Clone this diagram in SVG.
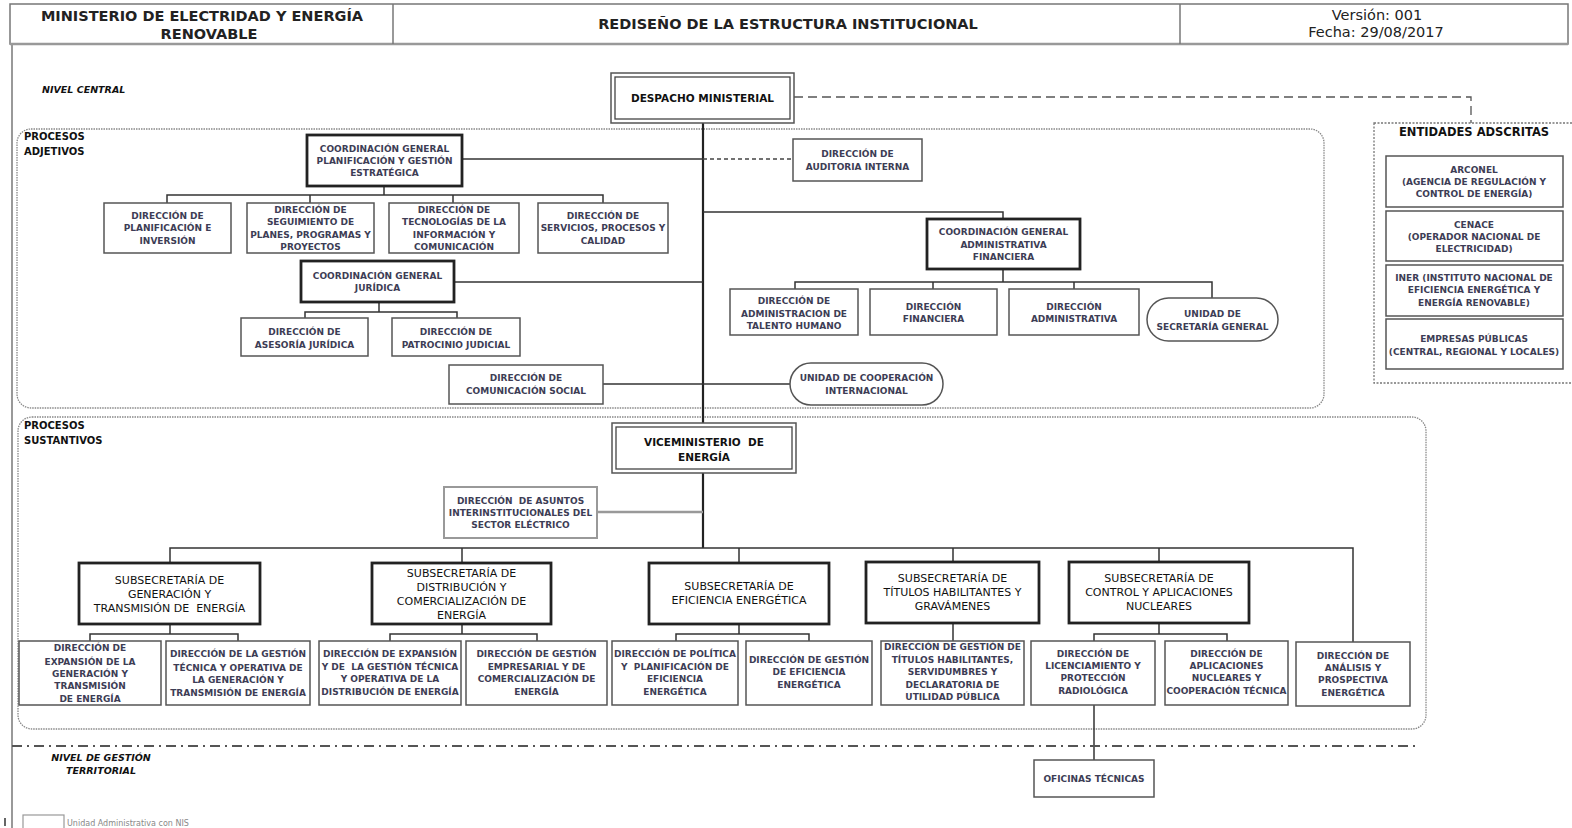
<svg xmlns="http://www.w3.org/2000/svg" width="1572" height="828" viewBox="0 0 1572 828">
<style>
text{font-family:"DejaVu Sans","Liberation Sans",Arial,sans-serif}
.s{font-size:9px;font-weight:bold;fill:#3d3d55;text-anchor:middle}
.sub{font-size:11px;fill:#111;text-anchor:middle}
.hd{font-size:14.5px;font-weight:bold;fill:#222;text-anchor:middle}
.hr{font-size:14.5px;fill:#222;text-anchor:middle}
.big{font-size:10.5px;font-weight:bold;fill:#111;text-anchor:middle}
.bx{fill:#fff;stroke:#555;stroke-width:1.5}
.tk{fill:#fff;stroke:#222;stroke-width:2.8}
.db{fill:none;stroke:#444;stroke-width:1.3}
.ln{fill:none;stroke:#333;stroke-width:1.5}
.trunk{fill:none;stroke:#222;stroke-width:2.2}
.reg{fill:none;stroke:#888;stroke-width:1.3;stroke-dasharray:1.5 1}
.lbl{font-size:10px;font-weight:bold;fill:#111}
.lvl{font-size:9.5px;font-weight:bold;font-style:italic;fill:#111}
</style>
<rect width="1572" height="828" fill="#fff"/>

<g id="header">
<rect x="10" y="4" width="1558" height="40" fill="none" stroke="#777" stroke-width="1.5"/>
<line x1="10" y1="44" x2="1568" y2="44" stroke="#999" stroke-width="2.5"/>
<line x1="393" y1="4" x2="393" y2="44" stroke="#777" stroke-width="1.5"/>
<line x1="1180" y1="4" x2="1180" y2="44" stroke="#777" stroke-width="1.5"/>
<text class="hd" x="202" y="21">MINISTERIO DE ELECTRIDAD Y ENERGÍA</text>
<text class="hd" x="209" y="39">RENOVABLE</text>
<text class="hd" x="788" y="29">REDISEÑO DE LA ESTRUCTURA INSTITUCIONAL</text>
<text class="hr" x="1377" y="20">Versión: 001</text>
<text class="hr" x="1376" y="37">Fecha: 29/08/2017</text>
</g>

<line x1="12" y1="44" x2="12" y2="828" stroke="#999" stroke-width="2"/>
<line x1="5" y1="818" x2="5" y2="826" stroke="#333" stroke-width="1.5"/>

<g id="regions">
<rect class="reg" x="17" y="129" width="1307" height="279" rx="14"/>
<rect class="reg" x="18" y="417" width="1408" height="312" rx="14"/>
<text class="lvl" x="42" y="92.5">NIVEL CENTRAL</text>
<text class="lbl" x="24" y="139.5">PROCESOS</text>
<text class="lbl" x="24" y="154.5">ADJETIVOS</text>
<text class="lbl" x="24" y="428.5">PROCESOS</text>
<text class="lbl" x="24" y="443.5">SUSTANTIVOS</text>
<text class="lvl" x="101" y="760.5" text-anchor="middle">NIVEL DE GESTIÓN</text>
<text class="lvl" x="101" y="773.5" text-anchor="middle">TERRITORIAL</text>
</g>

<g id="connectors">
<path class="trunk" d="M703 123V423M703 473V548"/>
<path class="ln" d="M462 159H703"/>
<path d="M703 159H793" fill="none" stroke="#444" stroke-width="1.3" stroke-dasharray="4 3"/>
<path d="M794 97H1471V123" fill="none" stroke="#555" stroke-width="1.3" stroke-dasharray="9 5"/>
<path class="ln" d="M384 186V195M167 203V195H603V203M310 195V203M453 195V203"/>
<path class="ln" d="M703 212H1003V219"/>
<path class="ln" d="M1003 269V282M795 289V282H1212V298M933 282V289M1074 282V289"/>
<path class="ln" d="M454 282H703"/>
<path class="ln" d="M379 302V312M305 318V312H457V318"/>
<path class="ln" d="M603 384H790"/>
<path d="M597 512H703" fill="none" stroke="#999" stroke-width="2.5"/>
<path class="ln" d="M170 563V548H1353V642M462 548V563M739 548V563M953 548V562M1159 548V562"/>
<path class="ln" d="M170 624V634M90 641V634H238V641"/>
<path class="ln" d="M462 624V634M390 641V634H537V641"/>
<path class="ln" d="M739 624V634M676 641V634H809V641"/>
<path class="ln" d="M953 623V641"/>
<path class="ln" d="M1159 623V634M1094 641V634H1227V641"/>
<path class="ln" d="M1094 705V760"/>
<path d="M12 746H1419" fill="none" stroke="#555" stroke-width="2" stroke-dasharray="10 5 2 5"/>
</g>

<g id="despacho">
<rect class="bx" x="611" y="73" width="183" height="50"/>
<rect class="db" x="615" y="77" width="175" height="42"/>
<text class="big" x="702.5" y="101.5">DESPACHO MINISTERIAL</text>
</g>

<g id="entidades">
<rect x="1374" y="123" width="210" height="260" fill="none" stroke="#777" stroke-width="1.3" stroke-dasharray="2 1.5"/>
<text x="1474" y="136" font-size="11.5" font-weight="bold" fill="#111" text-anchor="middle">ENTIDADES ADSCRITAS</text>
<rect class="bx" x="1386" y="156" width="177" height="51"/>
<text class="s" x="1474" y="172.5">ARCONEL</text>
<text class="s" x="1474" y="184.5">(AGENCIA DE REGULACIÓN Y</text>
<text class="s" x="1474" y="197">CONTROL DE ENERGÍA)</text>
<rect class="bx" x="1386" y="211" width="177" height="50"/>
<text class="s" x="1474" y="227.5">CENACE</text>
<text class="s" x="1474" y="239.5">(OPERADOR NACIONAL DE</text>
<text class="s" x="1474" y="251.5">ELECTRICIDAD)</text>
<rect class="bx" x="1386" y="265" width="177" height="51"/>
<text class="s" x="1474" y="280.5">INER (INSTITUTO NACIONAL DE</text>
<text class="s" x="1474" y="293">EFICIENCIA ENERGÉTICA Y</text>
<text class="s" x="1474" y="305.5">ENERGÍA RENOVABLE)</text>
<rect class="bx" x="1386" y="319" width="177" height="50"/>
<text class="s" x="1474" y="342">EMPRESAS PÚBLICAS</text>
<text class="s" x="1474" y="354.5">(CENTRAL, REGIONAL Y LOCALES)</text>
</g>

<g id="coord-planificacion">
<rect class="tk" x="307" y="135" width="155" height="51"/>
<text class="s" x="384.5" y="152">COORDINACIÓN GENERAL</text>
<text class="s" x="384.5" y="164">PLANIFICACIÓN Y GESTIÓN</text>
<text class="s" x="384.5" y="176">ESTRATÉGICA</text>
</g>
<g id="dir-planificacion">
<rect class="bx" x="104" y="203" width="127" height="50"/>
<text class="s" x="167.5" y="218.5">DIRECCIÓN DE</text>
<text class="s" x="167.5" y="231">PLANIFICACIÓN E</text>
<text class="s" x="167.5" y="243.5">INVERSIÓN</text>
</g>
<g id="dir-seguimiento">
<rect class="bx" x="247" y="203" width="127" height="50"/>
<text class="s" x="310.5" y="212.5">DIRECCIÓN DE</text>
<text class="s" x="310.5" y="225">SEGUIMIENTO  DE</text>
<text class="s" x="310.5" y="237.5">PLANES, PROGRAMAS Y</text>
<text class="s" x="310.5" y="250">PROYECTOS</text>
</g>
<g id="dir-tecnologias">
<rect class="bx" x="389" y="203" width="130" height="50"/>
<text class="s" x="454" y="212.5">DIRECCIÓN DE</text>
<text class="s" x="454" y="225">TECNOLOGÍAS DE LA</text>
<text class="s" x="454" y="237.5">INFORMACIÓN Y</text>
<text class="s" x="454" y="250">COMUNICACIÓN</text>
</g>
<g id="dir-servicios">
<rect class="bx" x="538" y="203" width="130" height="50"/>
<text class="s" x="603" y="218.5">DIRECCIÓN DE</text>
<text class="s" x="603" y="231">SERVICIOS,  PROCESOS Y</text>
<text class="s" x="603" y="243.5">CALIDAD</text>
</g>
<g id="dir-auditoria">
<rect class="bx" x="793" y="139" width="129" height="42"/>
<text class="s" x="857.5" y="157">DIRECCIÓN DE</text>
<text class="s" x="857.5" y="170">AUDITORIA INTERNA</text>
</g>

<g id="coord-juridica">
<rect class="tk" x="301" y="261" width="153" height="41"/>
<text class="s" x="377.5" y="279">COORDINACIÓN GENERAL</text>
<text class="s" x="377.5" y="290.5">JURÍDICA</text>
</g>
<g id="dir-asesoria">
<rect class="bx" x="241" y="318" width="127" height="38"/>
<text class="s" x="304.5" y="335">DIRECCIÓN DE</text>
<text class="s" x="304.5" y="348">ASESORÍA JURÍDICA</text>
</g>
<g id="dir-patrocinio">
<rect class="bx" x="392" y="318" width="128" height="38"/>
<text class="s" x="456" y="335">DIRECCIÓN DE</text>
<text class="s" x="456" y="348">PATROCINIO JUDICIAL</text>
</g>
<g id="dir-comunicacion">
<rect class="bx" x="449" y="365" width="154" height="39"/>
<text class="s" x="526" y="381">DIRECCIÓN DE</text>
<text class="s" x="526" y="394">COMUNICACIÓN SOCIAL</text>
</g>
<g id="unidad-cooperacion">
<rect class="bx" x="790" y="363" width="153" height="42" rx="21"/>
<text class="s" x="866.5" y="381">UNIDAD DE COOPERACIÓN</text>
<text class="s" x="866.5" y="394">INTERNACIONAL</text>
</g>

<g id="coord-administrativa">
<rect class="tk" x="927" y="219" width="153" height="50"/>
<text class="s" x="1003.5" y="235">COORDINACIÓN GENERAL</text>
<text class="s" x="1003.5" y="247.5">ADMINISTRATIVA</text>
<text class="s" x="1003.5" y="260">FINANCIERA</text>
</g>
<g id="dir-talento">
<rect class="bx" x="730" y="289" width="128" height="46"/>
<text class="s" x="794" y="304">DIRECCIÓN DE</text>
<text class="s" x="794" y="316.5">ADMINISTRACION DE</text>
<text class="s" x="794" y="329">TALENTO HUMANO</text>
</g>
<g id="dir-financiera">
<rect class="bx" x="870" y="289" width="127" height="46"/>
<text class="s" x="933.5" y="310">DIRECCIÓN</text>
<text class="s" x="933.5" y="322">FINANCIERA</text>
</g>
<g id="dir-administrativa">
<rect class="bx" x="1009" y="289" width="130" height="46"/>
<text class="s" x="1074" y="310">DIRECCIÓN</text>
<text class="s" x="1074" y="322">ADMINISTRATIVA</text>
</g>
<g id="unidad-secretaria">
<rect class="bx" x="1147" y="298" width="131" height="43" rx="21.5"/>
<text class="s" x="1212.5" y="317">UNIDAD DE</text>
<text class="s" x="1212.5" y="329.5">SECRETARÍA GENERAL</text>
</g>

<g id="viceministerio">
<rect class="bx" x="612" y="423" width="184" height="50"/>
<rect class="db" x="616" y="427" width="176" height="42"/>
<text class="big" x="704" y="445.5" xml:space="preserve">VICEMINISTERIO  DE</text>
<text class="big" x="704" y="460.5">ENERGÍA</text>
</g>
<g id="dir-asuntos">
<rect x="444" y="487" width="153" height="51" fill="#fff" stroke="#999" stroke-width="2"/>
<text class="s" x="520.5" y="504" xml:space="preserve">DIRECCIÓN  DE ASUNTOS</text>
<text class="s" x="520.5" y="516">INTERINSTITUCIONALES DEL</text>
<text class="s" x="520.5" y="527.5">SECTOR ELÉCTRICO</text>
</g>

<g id="subs-generacion">
<rect class="tk" x="79" y="563" width="181" height="61"/>
<text class="sub" x="169.5" y="584">SUBSECRETARÍA DE</text>
<text class="sub" x="169.5" y="598">GENERACIÓN Y</text>
<text class="sub" x="169.5" y="612" xml:space="preserve">TRANSMISIÓN DE  ENERGÍA</text>
</g>
<g id="subs-distribucion">
<rect class="tk" x="372" y="563" width="179" height="61"/>
<text class="sub" x="461.5" y="577">SUBSECRETARÍA DE</text>
<text class="sub" x="461.5" y="591">DISTRIBUCIÓN Y</text>
<text class="sub" x="461.5" y="605">COMERCIALIZACIÓN DE</text>
<text class="sub" x="461.5" y="619">ENERGÍA</text>
</g>
<g id="subs-eficiencia">
<rect class="tk" x="649" y="563" width="180" height="61"/>
<text class="sub" x="739" y="590">SUBSECRETARÍA DE</text>
<text class="sub" x="739" y="604">EFICIENCIA ENERGÉTICA</text>
</g>
<g id="subs-titulos">
<rect class="tk" x="866" y="562" width="173" height="61"/>
<text class="sub" x="952.5" y="582">SUBSECRETARÍA DE</text>
<text class="sub" x="952.5" y="596">TÍTULOS HABILITANTES Y</text>
<text class="sub" x="952.5" y="610">GRAVÁMENES</text>
</g>
<g id="subs-control">
<rect class="tk" x="1069" y="562" width="180" height="61"/>
<text class="sub" x="1159" y="582">SUBSECRETARÍA DE</text>
<text class="sub" x="1159" y="596">CONTROL Y APLICACIONES</text>
<text class="sub" x="1159" y="610">NUCLEARES</text>
</g>

<g id="dir-expansion-generacion">
<rect class="bx" x="19" y="641" width="142" height="64"/>
<text class="s" x="90" y="651">DIRECCIÓN DE</text>
<text class="s" x="90" y="665">EXPANSIÓN DE LA</text>
<text class="s" x="90" y="677">GENERACIÓN Y</text>
<text class="s" x="90" y="689">TRANSMISIÓN</text>
<text class="s" x="90" y="702">DE ENERGÍA</text>
</g>
<g id="dir-gestion-generacion">
<rect class="bx" x="166" y="641" width="144" height="64"/>
<text class="s" x="238" y="657">DIRECCIÓN DE LA GESTIÓN</text>
<text class="s" x="238" y="671">TÉCNICA Y OPERATIVA DE</text>
<text class="s" x="238" y="683">LA GENERACIÓN Y</text>
<text class="s" x="238" y="696">TRANSMISIÓN DE ENERGÍA</text>
</g>
<g id="dir-expansion-distribucion">
<rect class="bx" x="319" y="641" width="142" height="64"/>
<text class="s" x="390" y="657">DIRECCIÓN DE EXPANSIÓN</text>
<text class="s" x="390" y="670" xml:space="preserve">Y DE  LA GESTIÓN TÉCNICA</text>
<text class="s" x="390" y="682">Y OPERATIVA DE LA</text>
<text class="s" x="390" y="695">DISTRIBUCIÓN DE ENERGÍA</text>
</g>
<g id="dir-gestion-empresarial">
<rect class="bx" x="466" y="641" width="141" height="64"/>
<text class="s" x="536.5" y="657">DIRECCIÓN DE GESTIÓN</text>
<text class="s" x="536.5" y="670">EMPRESARIAL Y DE</text>
<text class="s" x="536.5" y="682">COMERCIALIZACIÓN DE</text>
<text class="s" x="536.5" y="695">ENERGÍA</text>
</g>
<g id="dir-politica-eficiencia">
<rect class="bx" x="612" y="641" width="126" height="64"/>
<text class="s" x="675" y="657">DIRECCIÓN DE POLÍTICA</text>
<text class="s" x="675" y="670" xml:space="preserve">Y  PLANIFICACIÓN DE</text>
<text class="s" x="675" y="682">EFICIENCIA</text>
<text class="s" x="675" y="695">ENERGÉTICA</text>
</g>
<g id="dir-gestion-eficiencia">
<rect class="bx" x="746" y="641" width="126" height="64"/>
<text class="s" x="809" y="663">DIRECCIÓN DE GESTIÓN</text>
<text class="s" x="809" y="675">DE EFICIENCIA</text>
<text class="s" x="809" y="688">ENERGÉTICA</text>
</g>
<g id="dir-titulos">
<rect class="bx" x="881" y="641" width="143" height="64"/>
<text class="s" x="952.5" y="650">DIRECCIÓN DE GESTIÓN DE</text>
<text class="s" x="952.5" y="663">TÍTULOS HABILITANTES,</text>
<text class="s" x="952.5" y="675">SERVIDUMBRES Y</text>
<text class="s" x="952.5" y="688">DECLARATORIA DE</text>
<text class="s" x="952.5" y="700">UTILIDAD PÚBLICA</text>
</g>
<g id="dir-licenciamiento">
<rect class="bx" x="1031" y="641" width="124" height="64"/>
<text class="s" x="1093" y="657">DIRECCIÓN DE</text>
<text class="s" x="1093" y="669">LICENCIAMIENTO Y</text>
<text class="s" x="1093" y="681">PROTECCIÓN</text>
<text class="s" x="1093" y="694">RADIOLÓGICA</text>
</g>
<g id="dir-aplicaciones">
<rect class="bx" x="1165" y="641" width="123" height="64"/>
<text class="s" x="1226.5" y="657">DIRECCIÓN DE</text>
<text class="s" x="1226.5" y="669">APLICACIONES</text>
<text class="s" x="1226.5" y="681">NUCLEARES Y</text>
<text class="s" x="1226.5" y="694">COOPERACIÓN TÉCNICA</text>
</g>
<g id="dir-analisis">
<rect class="bx" x="1296" y="642" width="114" height="64"/>
<text class="s" x="1353" y="659">DIRECCIÓN DE</text>
<text class="s" x="1353" y="671">ANÁLISIS Y</text>
<text class="s" x="1353" y="683">PROSPECTIVA</text>
<text class="s" x="1353" y="696">ENERGÉTICA</text>
</g>
<g id="oficinas-tecnicas">
<rect class="bx" x="1034" y="760" width="120" height="37"/>
<text class="s" x="1094" y="782">OFICINAS TÉCNICAS</text>
</g>

<g id="legend">
<rect x="23" y="815" width="41" height="16" fill="#fff" stroke="#999" stroke-width="1.2"/>
<text x="67" y="826" font-size="8" fill="#888">Unidad Administrativa con NIS</text>
</g>
</svg>
